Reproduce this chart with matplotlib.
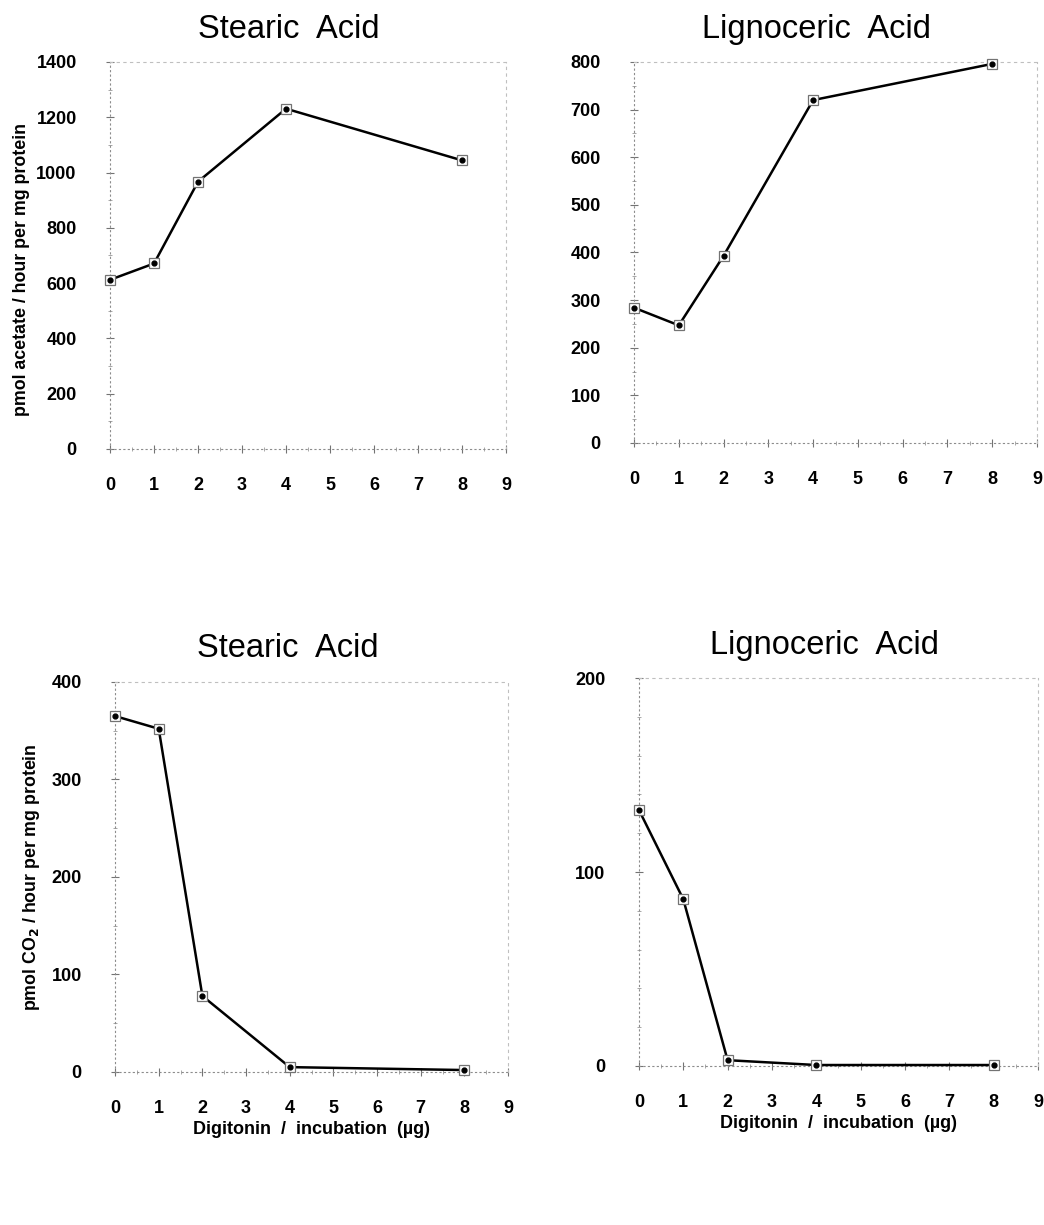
import numpy as np
import matplotlib.pyplot as plt
from matplotlib.ticker import MultipleLocator

plt.rcParams['font.family'] = ['Liberation Sans', 'DejaVu Sans']

# Dados (digitonina em ug por incubacao)
digitonin = [0, 1, 2, 4, 8]
stearic_acetate = [612, 671, 967, 1231, 1044]
lignoceric_acetate = [284, 247, 393, 720, 796]
stearic_co2 = [365, 352, 78, 5, 2]
lignoceric_co2 = [132, 86, 3, 0.5, 0.5]

x_ticks = list(range(10))

panels = [
    # (posicao, titulo, x do titulo, dados, ylim, major, minor, ylabel, pos do ylabel, xlabel)
    ([0.1054, 0.6335, 0.3793, 0.3159], 'Stearic  Acid', 0.452, stearic_acetate, 1400, 200, 100,
     'pmol acetate / hour per mg protein', (-0.202, 0.4625), None),
    ([0.6073, 0.6384, 0.3860, 0.3110], 'Lignoceric  Acid', 0.454, lignoceric_acetate, 800, 100, 50,
     None, None, None),
    ([0.1102, 0.1249, 0.3764, 0.3184], 'Stearic  Acid', 0.44, stearic_co2, 400, 100, 50,
     r'pmol CO$_\mathbf{2}$ / hour per mg protein', (-0.186, 0.5),
     'Digitonin  /  incubation  (\u00b5g)'),
    ([0.6120, 0.1298, 0.3822, 0.3167], 'Lignoceric  Acid', 0.466, lignoceric_co2, 200, 100, 20,
     None, None, 'Digitonin  /  incubation  (\u00b5g)'),
]

fig = plt.figure(figsize=(10.44, 12.25), dpi=100)

for pos, title, tx, vals, ymax, major, minor, ylabel, lpos, xlabel in panels:
    ax = fig.add_axes(pos)
    ax.plot(digitonin, vals, color='black', lw=1.8, marker='s', ms=7,
            mfc='white', mec='0.45', mew=0.9, zorder=3, clip_on=False)
    ax.plot(digitonin, vals, 'o', color='black', ms=3.5, zorder=4, clip_on=False)

    ax.set_xlim(0, 9)
    ax.set_ylim(0, ymax)
    ax.set_xticks(x_ticks)
    ax.xaxis.set_minor_locator(MultipleLocator(0.5))
    ax.yaxis.set_major_locator(MultipleLocator(major))
    ax.yaxis.set_minor_locator(MultipleLocator(minor))

    for side, sp in ax.spines.items():
        sp.set_color('0.55')
        sp.set_linewidth(0.8)
        if side in ('top', 'right'):
            sp.set_linestyle((0, (2, 4)))
            sp.set_color('0.75')
        else:
            sp.set_linestyle((0, (1, 3)))

    ax.tick_params(which='major', direction='inout', length=6, width=0.8, color='0.45',
                   labelsize=13)
    ax.tick_params(which='minor', direction='inout', length=3, width=0.6, color='0.6')
    ax.tick_params(axis='x', pad=17)
    ax.tick_params(axis='y', pad=21)
    for lab in ax.get_xticklabels() + ax.get_yticklabels():
        lab.set_fontweight('bold')

    ax.text(tx, 1.045, title, transform=ax.transAxes, fontsize=23.5,
            ha='center', va='bottom')
    if ylabel:
        ax.set_ylabel(ylabel, fontsize=12.8, fontweight='bold')
        ax.yaxis.set_label_coords(*lpos)
    if xlabel:
        ax.set_xlabel(xlabel, fontsize=13, fontweight='bold', labelpad=3)

fig.savefig('out.png', dpi=100)
